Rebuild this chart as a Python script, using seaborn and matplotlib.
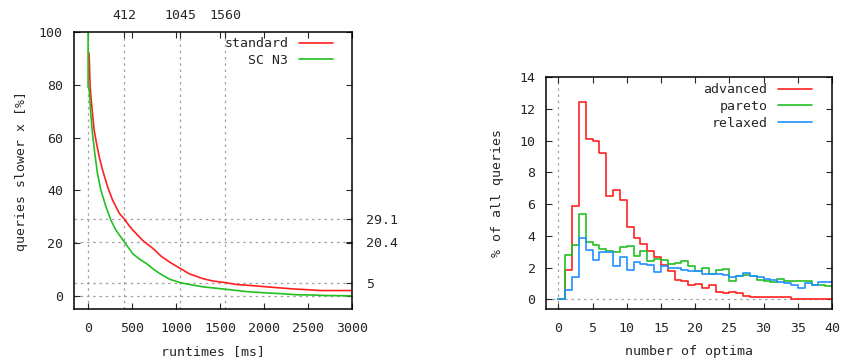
import matplotlib
matplotlib.use("Agg")
import matplotlib.pyplot as plt
import numpy as np
import pandas as pd
import seaborn as sns

# left panel: share of queries slower than x
rt_standard = [0, 11, 23, 42, 68, 95, 126, 164, 221, 278, 354, 412, 468, 506, 620, 735,
               830, 925, 1039, 1153, 1305, 1420, 1560, 1686, 1850, 2067, 2333, 2450, 2638, 2800, 3000]
pct_standard = [92, 92, 79.3, 71.8, 63, 57.9, 52.8, 47.7, 41.4, 36.3, 31.3, 29.1, 26.5, 25, 21, 18,
                15, 12.8, 10.5, 8.3, 6.5, 5.6, 5.0, 4.3, 3.9, 3.3, 2.6, 2.4, 2.0, 2.0, 2.0]
rt_scn3 = [0, 0, 11, 30, 49, 76, 106, 145, 202, 259, 316, 412, 506, 580, 659, 735, 811,
           925, 1045, 1150, 1305, 1560, 1800, 2029, 2200, 2371, 2550, 2714, 3000]
pct_scn3 = [100, 79, 79, 69, 61.7, 54, 46.5, 40, 33.8, 28.7, 24.9, 20.4, 16, 14, 12.3, 10.3, 8.5,
            6.3, 5.0, 4.3, 3.4, 2.5, 1.6, 1.1, 0.8, 0.4, 0.3, 0.1, 0.0]
mark_x = [0, 412, 1045, 1560]
mark_y = [0, 5, 20.4, 29.1]

# right panel: distribution of number of optima (bins of width 1, 0..40)
optima_edges = list(range(41))
advanced = [0, 1.84, 5.87, 12.4, 10.1, 9.94, 9.24, 6.53, 6.86, 6.27, 4.56, 3.86, 3.49, 3.02, 2.67,
            2.18, 1.76, 1.24, 1.18, 0.93, 0.99, 0.72, 0.93, 0.5, 0.4, 0.5, 0.4, 0.23, 0.15, 0.15,
            0.15, 0.15, 0.15, 0.15, 0.06, 0.06, 0.06, 0.06, 0.06, 0.0]
pareto = [0, 2.77, 3.44, 5.37, 3.61, 3.4, 3.19, 3.08, 2.98, 3.3, 3.38, 2.75, 3.02, 2.44, 2.54,
          2.5, 2.25, 2.29, 2.44, 2.08, 1.76, 1.97, 1.62, 1.83, 1.91, 1.18, 1.45, 1.55, 1.49, 1.24,
          1.18, 1.13, 1.3, 1.18, 1.18, 1.18, 1.18, 0.93, 0.93, 0.83]
relaxed = [0, 0.61, 1.41, 3.86, 3.13, 2.5, 2.98, 2.98, 2.12, 2.67, 1.83, 2.33, 2.25, 2.18, 1.7,
           2.12, 1.98, 1.95, 1.83, 1.76, 1.76, 1.62, 1.62, 1.62, 1.55, 1.41, 1.49, 1.66, 1.49, 1.41,
           1.31, 1.24, 1.07, 1.03, 0.93, 0.72, 1.03, 0.93, 1.1, 1.1]

RED = "#ff2020"
GREEN = "#22c022"
BLUE = "#2090ff"
GRID = "#a0a0a0"

sns.set_style("ticks")
plt.rcParams['font.family'] = ['DejaVu Sans Mono']
plt.rcParams['font.size'] = 9.5

fig = plt.figure(figsize=(8.43, 3.62), dpi=100)
ax1 = fig.add_axes([0.0878, 0.1464, 0.33, 0.765])
ax2 = fig.add_axes([0.6477, 0.1464, 0.3393, 0.641])

leg_kw = dict(frameon=False, markerfirst=False, handlelength=2.6, labelspacing=0.28,
              handletextpad=0.8, borderaxespad=0)

# ---- left panel
df1 = pd.concat([
    pd.DataFrame({"runtime": rt_standard, "pct": pct_standard, "series": "standard"}),
    pd.DataFrame({"runtime": rt_scn3, "pct": pct_scn3, "series": "SC N3"}),
])
for v in mark_x:
    ax1.axvline(v, color=GRID, ls=(0, (2, 3)), lw=0.9, zorder=0)
for v in mark_y:
    ax1.axhline(v, color=GRID, ls=(0, (2, 3)), lw=0.9, zorder=0)
sns.lineplot(data=df1, x="runtime", y="pct", hue="series", palette=[RED, GREEN],
             estimator=None, sort=False, lw=1.2, ax=ax1)
ax1.set_xlim(-160, 3000)
ax1.set_ylim(-5, 100)
ax1.set_xticks(range(0, 3001, 500))
ax1.set_yticks(range(0, 101, 20))
ax1.set_xlabel("runtimes [ms]", labelpad=7)
ax1.set_ylabel("queries slower x [%]", labelpad=8)
ax1.tick_params(direction="in", top=True, right=True, length=4)
ax1.tick_params(axis="x", pad=9.5)
ax1.tick_params(axis="y", pad=8)
top = ax1.secondary_xaxis("top")
top.set_xticks(mark_x[1:])
top.tick_params(direction="in", length=4, pad=7.5)
right = ax1.secondary_yaxis("right")
right.set_yticks(mark_y[1:])
right.set_yticklabels(["5", "20.4", "29.1"])
right.tick_params(direction="in", length=4, pad=10)
ax1.legend(loc="upper right", bbox_to_anchor=(0.95, 1.0), **leg_kw)

# ---- right panel
df2 = pd.concat([
    pd.DataFrame({"optima": optima_edges, "pct": advanced + advanced[-1:], "series": "advanced"}),
    pd.DataFrame({"optima": optima_edges, "pct": pareto + pareto[-1:], "series": "pareto"}),
    pd.DataFrame({"optima": optima_edges, "pct": relaxed + relaxed[-1:], "series": "relaxed"}),
])
ax2.axvline(0, color=GRID, ls=(0, (2, 3)), lw=0.9, zorder=0)
ax2.axhline(0, color=GRID, ls=(0, (2, 3)), lw=0.9, zorder=0)
sns.lineplot(data=df2, x="optima", y="pct", hue="series", palette=[RED, GREEN, BLUE],
             estimator=None, sort=False, drawstyle="steps-post", lw=1.2, ax=ax2)
ax2.set_xlim(-1.8, 40)
ax2.set_ylim(-0.6, 14)
ax2.set_xticks(range(0, 41, 5))
ax2.set_yticks(range(0, 15, 2))
ax2.set_xlabel("number of optima", labelpad=7)
ax2.set_ylabel("% of all queries", labelpad=11)
ax2.tick_params(direction="in", top=True, right=True, length=4)
ax2.tick_params(axis="x", pad=9.5)
ax2.tick_params(axis="y", pad=7.5)
ax2.legend(loc="upper right", bbox_to_anchor=(0.95, 0.995), **leg_kw)

for ax in (ax1, ax2):
    for s in ax.spines.values():
        s.set_visible(True)
        s.set_linewidth(1.1)
        s.set_color("black")
for s in top.spines.values():
    s.set_visible(False)
for s in right.spines.values():
    s.set_visible(False)

fig.savefig("out.png", dpi=100)
